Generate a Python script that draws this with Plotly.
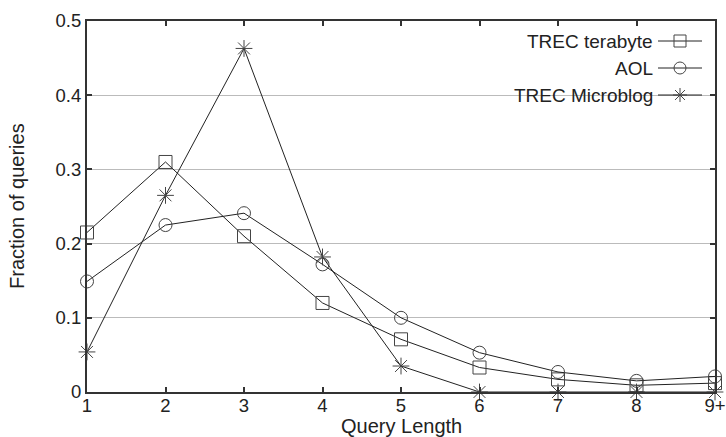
import plotly.graph_objects as go

categories = ["1", "2", "3", "4", "5", "6", "7", "8", "9+"]
trec_terabyte = [0.215, 0.310, 0.210, 0.120, 0.071, 0.033, 0.017, 0.009, 0.012]
aol = [0.149, 0.225, 0.241, 0.172, 0.100, 0.053, 0.027, 0.015, 0.021]
trec_microblog = [0.054, 0.265, 0.463, 0.182, 0.035, 0.0, 0.0, 0.0, 0.0]
series_names = ["TREC terabyte", "AOL", "TREC Microblog"]
y_ticks = [0, 0.1, 0.2, 0.3, 0.4, 0.5]
y_tick_labels = ["0", "0.1", "0.2", "0.3", "0.4", "0.5"]
x_title = "Query Length"
y_title = "Fraction of queries"

W, H = 726, 437
ML, MR, MT, MB = 87, 11, 21, 45
PW, PH = W - ML - MR, H - MT - MB

def px(x):
    return (x - ML) / PW

def py(y):
    return (H - MB - y) / PH

line_col = "#222222"
mark_col = "#444444"
font = "Liberation Sans, Arial, sans-serif"

fig = go.Figure()
styles = [
    dict(symbol="square-open", size=13),
    dict(symbol="circle-open", size=13),
    dict(symbol="asterisk-open", size=14),
]
for name, vals, st in zip(series_names, [trec_terabyte, aol, trec_microblog], styles):
    fig.add_trace(go.Scatter(
        x=categories, y=vals, name=name, mode="lines+markers",
        line=dict(color=line_col, width=1),
        marker=dict(symbol=st["symbol"], size=st["size"], color=mark_col,
                    line=dict(color=mark_col, width=1)),
        cliponaxis=False, showlegend=False,
    ))

shapes = []
annotations = []
# axis titles
annotations.append(dict(text=x_title, xref="paper", yref="paper", x=px(401), y=py(438),
                        xanchor="center", yanchor="bottom", showarrow=False, borderpad=0,
                        font=dict(size=20, color="#222222", family=font)))
annotations.append(dict(text=y_title, xref="paper", yref="paper", x=px(17), y=py(206),
                        xanchor="center", yanchor="middle", showarrow=False, textangle=-90,
                        font=dict(size=20, color="#222222", family=font)))
# legend backdrop (hides grid under legend)
shapes.append(dict(type="rect", xref="paper", yref="paper", layer="between",
                   x0=px(507), x1=px(714), y0=py(108), y1=py(28),
                   fillcolor="white", line=dict(width=0)))
rows_y = [41, 68, 95]
text_right = 655
samp_x0, samp_x1, samp_c = 658, 702, 680
for i, (name, ry) in enumerate(zip(series_names, rows_y)):
    annotations.append(dict(text=name, xref="paper", yref="paper",
                            x=px(text_right), y=py(ry), xanchor="right", yanchor="middle",
                            showarrow=False, font=dict(size=19, color="#222222", family=font)))
    shapes.append(dict(type="line", xref="paper", yref="paper",
                       x0=px(samp_x0), x1=px(samp_x1), y0=py(ry), y1=py(ry),
                       line=dict(color=line_col, width=1)))
    r = 6
    if i == 0:
        shapes.append(dict(type="rect", xref="paper", yref="paper",
                           x0=px(samp_c - r), x1=px(samp_c + r), y0=py(ry + r), y1=py(ry - r),
                           line=dict(color=mark_col, width=1)))
    elif i == 1:
        shapes.append(dict(type="circle", xref="paper", yref="paper",
                           x0=px(samp_c - r), x1=px(samp_c + r), y0=py(ry + r), y1=py(ry - r),
                           line=dict(color=mark_col, width=1)))
    else:
        r = 7
        for dx, dy in [(r, 0), (0, r), (r * 0.707, r * 0.707), (r * 0.707, -r * 0.707)]:
            shapes.append(dict(type="line", xref="paper", yref="paper",
                               x0=px(samp_c - dx), x1=px(samp_c + dx),
                               y0=py(ry - dy), y1=py(ry + dy),
                               line=dict(color=mark_col, width=1)))

axis_common = dict(showline=True, linecolor="#333333", linewidth=2, mirror="ticks",
                   ticks="inside", ticklen=5, tickwidth=1.5, tickcolor="#333333",
                   tickfont=dict(size=18.5, color="#222222", family=font), zeroline=False,
                   automargin=False)

fig.update_layout(
    width=W, height=H,
    margin=dict(l=ML, r=MR, t=MT, b=MB, pad=0, autoexpand=False),
    paper_bgcolor="white", plot_bgcolor="white",
    font=dict(family=font, color="#222222"),
    xaxis=dict(type="category", range=[0, len(categories) - 1], showgrid=False,
               ticklabelstandoff=-4, **axis_common),
    yaxis=dict(range=[0, 0.5], tickvals=y_ticks, ticktext=y_tick_labels,
               showgrid=True, gridcolor="#bbbbbb", gridwidth=1, **axis_common),
    shapes=shapes, annotations=annotations, showlegend=False,
)

fig.write_html("out.html")
